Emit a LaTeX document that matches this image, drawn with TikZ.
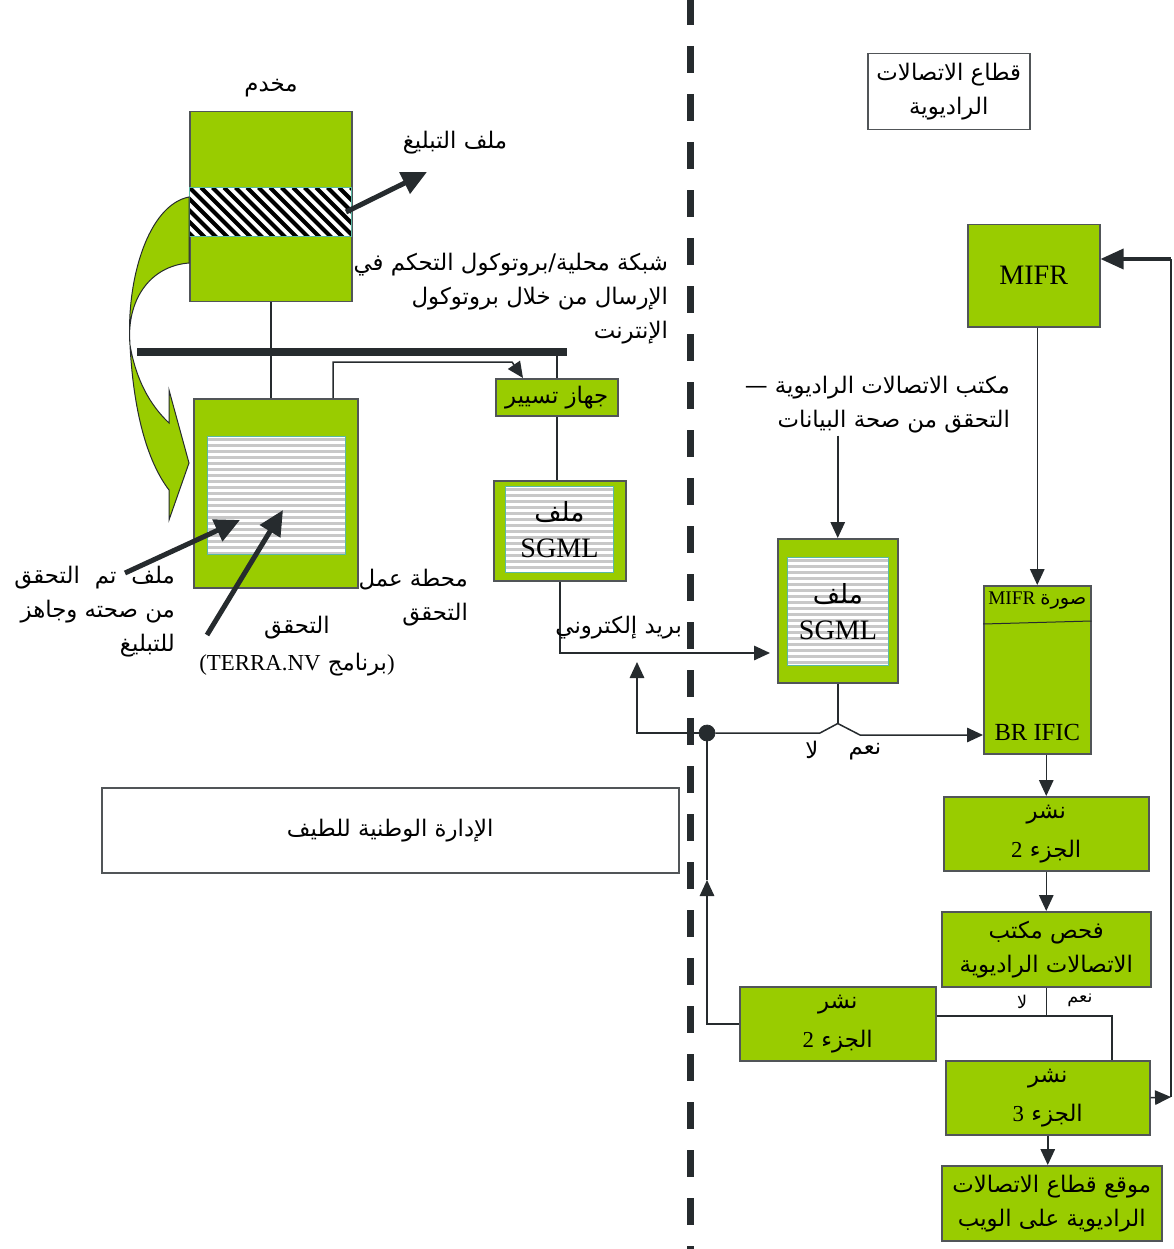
\documentclass[tikz,border=0pt]{standalone}
\usepackage{fontspec}
\setmainfont{Liberation Serif}
\newfontfamily\arabicfont[Script=Arabic]{DejaVu Sans}
\newfontfamily\latinfont{Liberation Serif}
\TeXXeTstate=1
\usetikzlibrary{positioning, arrows.meta, calc}

\definecolor{leafgreen}{RGB}{153,204,0}
\definecolor{ink}{RGB}{38,43,46}
\definecolor{stripegray}{RGB}{200,200,200}
\definecolor{edgeteal}{RGB}{90,185,165}

\newcommand{\artx}[1]{{\arabicfont\beginR #1\endR}}
\newcommand{\lat}[1]{{\latinfont #1}}
\newcommand{\biglatfont}{\latinfont\fontsize{16}{19}\selectfont}

\begin{document}
\begin{tikzpicture}[
  x=0.2mm, y=-0.2mm,
  >={Triangle[length=3.2mm, width=2.9mm]},
  font=\arabicfont\fontsize{13}{19.4}\selectfont,
  sz/.style 2 args={minimum width=#1*0.2mm, minimum height=#2*0.2mm},
  G/.style={draw=ink!80, fill=leafgreen, anchor=north west, inner sep=0pt, align=center, line width=0.3mm},
  W/.style={G, fill=white},
  lined/.style={G, draw=edgeteal, line width=0.2mm, fill=white,
    path picture={\foreach \k in {0,...,24}
      \draw[stripegray, line width=0.6mm]
        ([yshift=-\k*1.2mm-0.6mm]path picture bounding box.north west) --
        ([yshift=-\k*1.2mm-0.6mm]path picture bounding box.north east);}},
  hatched/.style={G, draw=edgeteal, line width=0.2mm, fill=white,
    path picture={\foreach \k in {-6,...,16}
      \draw[black, line width=0.8mm]
        ([xshift=\k*2.3mm]path picture bounding box.north west) -- ++(12mm,-12mm);}},
  s/.style={align=center, inner sep=1pt},
  ln/.style={draw=ink, line width=0.3mm},
  arr/.style={ln, ->},
  fat/.style={draw=ink, line width=1mm, -{Triangle[length=5mm, width=4.6mm]}}
]
\useasboundingbox (0,0) rectangle (1173,1249);

% left side: national administration
\node[W, sz={162}{76}] (sector) at (867,53) {\artx{قطاع الاتصالات}\\\artx{الراديوية}};
\node[s] (srvlbl) at (271,88) {\artx{مخدم}};
\node[G, sz={162}{190}] (srv) at (189,111) {};
\node[hatched, sz={162}{49}] (notif) at (189,187) {};
\node[s] (notiflbl) at (455,143) {\artx{ملف التبليغ}};
\coordinate (notiftip) at (427,172);
\draw[fat] ([xshift=-1.2mm]notif.east) -- (notiftip);

\node[s, align=right, anchor=east] (nettxt) at (670,299)
  {\artx{شبكة محلية/بروتوكول التحكم في}\\\artx{الإرسال من خلال بروتوكول}\\\artx{الإنترنت}};

% curved transfer arrow
\draw[draw=ink, fill=leafgreen, line width=0.2mm]
  (189,197) .. controls (148,205) and (126,280) .. (130,345)
  .. controls (134,420) and (150,465) .. (169,490) -- (169,520) -- (189,463)
  -- (169,390) -- (169,423) .. controls (150,405) and (136,380) .. (130,345)
  .. controls (126,300) and (150,266) .. (189,263) -- cycle;

% LAN bus
\coordinate (busL) at (137,352);
\coordinate (busR) at (567,352);
\draw[ink, line width=1.6mm] (busL) -- (busR);

\node[G, sz={164}{189}] (ws) at (193,398) {};
\node[lined, sz={138}{118}] (wsin) at (207,436) {};
\draw[ln] (srv.south) -- (srv.south |- ws.north);

\node[G, sz={122}{37}] (route) at (495,378) {\artx{جهاز تسيير}};
\coordinate (wsup) at (333,362);
\coordinate (wsbend) at (512,362);
\draw[arr] (ws.north -| wsup) -- (wsup) -- (wsbend) -- ($(route.north west)+(28,0)$);
\draw[ln] (route.north) -- (route.north |- busR);

\node[G, sz={132}{100}] (sgA) at (493,480) {};
\node[lined, sz={108}{86}] (sgAin) at (505,486)
  {{\fontsize{15}{17}\selectfont\artx{ملف}}\\[0.5mm]{\biglatfont SGML}};
\draw[ln] (route.south) -- (route.south |- sgA.north);

\node[s, align=right, anchor=east] (wslbl) at (470,598) {\artx{محطة عمل}\\\artx{التحقق}};
\node[s] (vlbl) at (297,646) {\artx{التحقق}\\[0.5mm]\lat{(TERRA.NV} برنامج\lat{)}};
\node[s, align=right, anchor=east] (donelbl) at (177,612)
  {\artx{ملف\hspace{3mm}تم\hspace{3mm}التحقق}\\\artx{من صحته وجاهز}\\\artx{للتبليغ}};
\coordinate (doneA) at (125,573);
\coordinate (doneB) at (240,520);
\coordinate (progA) at (207,635);
\coordinate (progB) at (283,510);
\draw[fat] (doneA) -- (doneB);
\draw[fat] (progA) -- (progB);

\node[W, sz={577}{85}] (nsm) at (101,787) {\artx{الإدارة الوطنية للطيف}};

% right side: radiocommunication bureau
\node[G, sz={132}{102}] (mifr) at (967,224) {\biglatfont MIFR};
\node[s, align=right, anchor=east] (rbtxt) at (1012,405)
  {\artx{مكتب الاتصالات الراديوية —}\\\artx{التحقق من صحة البيانات}};

\node[G, sz={120}{144}] (sgB) at (777,538) {};
\node[lined, sz={101}{108}] (sgBin) at (787,557)
  {{\fontsize{15}{17}\selectfont\artx{ملف}}\\[0.5mm]{\biglatfont SGML}};
\draw[arr] (rbtxt.south -| sgB.north) -- (sgB.north);

\coordinate (mailpt) at (557,653);
\draw[arr, shorten >=1.4mm] (sgA.south) |- (sgB.west |- mailpt);
\node[s, anchor=south east] (maillbl) at (684,641) {\artx{بريد إلكتروني}};

\node[G, sz={107}{168}] (mimg) at (983,585) {};
\draw[ln, line width=0.2mm] ([yshift=-7.8mm]mimg.north west) -- ([yshift=-7.2mm]mimg.north east);
\node[s, font=\fontsize{11}{13}\selectfont] (mimgt) at ([yshift=-3.2mm]mimg.north)
  {\lat{MIFR} \arabicfont صورة};
\node[s] (mimgb) at ([yshift=4.4mm]mimg.south) {\latinfont\fontsize{14}{16}\selectfont BR IFIC};
\draw[arr] (mimg.north |- mifr.south) -- (mimg.north);

% yes / no switch
\node[circle, fill=ink, draw=ink, inner sep=0pt, minimum size=3.2mm] (dot) at (707,733) {};
\draw[ln] (sgB.south) -- ++(0,40) coordinate (sw);
\coordinate (swL) at (820,733);
\coordinate (swR) at (860,735);
\draw[ln] (dot) -- (swL) -- (sw);
\draw[arr] (sw) -- (swR) -- (mimg.west |- swR);
\node[s] (nolbl) at (812,750) {\artx{لا}};
\node[s] (yeslbl) at (865,752) {\artx{نعم}};
\coordinate (backup) at (637,662);
\draw[arr] (dot) -| (backup);

\node[G, sz={205}{74}] (pubA) at (943,796) {\artx{نشر}\\[1mm]\lat{2} \arabicfont الجزء};
\node[G, sz={209}{75}] (chk) at (941,911) {\artx{فحص مكتب}\\\artx{الاتصالات الراديوية}};
\node[G, sz={196}{74}] (pubL) at (739,986) {\artx{نشر}\\[1mm]\lat{2} \arabicfont الجزء};
\node[G, sz={204}{74}] (pub3) at (945,1060) {\artx{نشر}\\[1mm]\lat{3} \arabicfont الجزء};
\node[G, sz={220}{75}] (web) at (941,1165) {\artx{موقع قطاع الاتصالات}\\\artx{الراديوية على الويب}};

\draw[arr] (mimg.south -| pubA.north) -- (pubA.north);
\draw[arr] (pubA.south) -- (pubA.south |- chk.north);
\coordinate (split) at (1112,1016);
\draw[ln] (chk.south) -- (chk.south |- split);
\draw[ln] (pubL.east |- split) -- (split) -- (split |- pub3.north);
\node[s, font=\fontsize{10}{12}\selectfont] (nolbl2) at (1022,1002) {\artx{لا}};
\node[s, font=\fontsize{10}{12}\selectfont] (yeslbl2) at (1080,1000) {\artx{نعم}};
\draw[arr] (pub3.south) -- (pub3.south |- web.north);

\coordinate (upmid) at (707,880);
\draw[arr] (pubL.west) -| (upmid);
\draw[ln] (upmid) -- (dot);

\coordinate (rr) at (1171,1097);
\coordinate (rtop) at (1171,259);
\draw[arr] (pub3.east) -- (rr);
\draw[ln] (rr) -- (rtop);
\draw[draw=ink, line width=0.7mm, -{Triangle[length=4.6mm, width=4mm]}] (rtop) -- (mifr.east |- rtop);

% boundary between administration and bureau
\draw[ink, line width=1.4mm, dash pattern=on 5.4mm off 4.2mm] (690,-2) -- (690,1251);
\end{tikzpicture}
\end{document}
